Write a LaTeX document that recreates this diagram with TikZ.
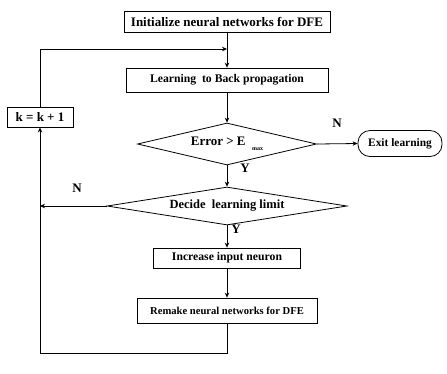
\documentclass[tikz,border=0pt]{standalone}
\usepackage{fontspec}
\setmainfont{Liberation Serif}
\usetikzlibrary{shapes.geometric,arrows.meta}
\newcommand{\fs}[1]{\fontsize{#1}{#1}\selectfont\bfseries}
\begin{document}
\begin{tikzpicture}[x=1pt,y=-1pt,
  font=\fs{13},
  line width=0.8pt,
  arr/.style={-{Stealth[length=5pt,width=4.5pt]}},
  proc/.style={draw,rectangle,inner sep=0pt,align=center},
  dec/.style={draw,diamond,inner sep=0pt,aspect=4},
  term/.style={draw,rectangle,rounded corners=12pt,inner sep=0pt},
  lbl/.style={inner sep=0pt}]
\useasboundingbox (0,0) rectangle (447,373);
\node[proc,minimum width=206pt,minimum height=21pt] (b1) at (227,22) {Initialize neural networks for DFE};
\node[proc,minimum width=202pt,minimum height=24pt,font=\fs{11.7}] (b2) at (227,80) {Learning \ to Back propagation};
\node[proc,minimum width=66pt,minimum height=20pt] (k) at (40,117) {k = k + 1};
\node[dec,minimum width=179pt,minimum height=42pt] (d1) at (227,144) {};
\node[lbl] (d1t) at (227,144) {Error > E \ \raisebox{-5pt}{\fontsize{6}{6}\selectfont max}};
\node[term,minimum width=84pt,minimum height=26pt,font=\fs{11.4}] (ex) at (400,143.5) {Exit learning};
\node[dec,minimum width=240pt,minimum height=38pt] (d2) at (227,206) {};
\node[lbl,font=\fs{12.5}] (d2t) at (227,206) {Decide \ learning limit};
\node[proc,minimum width=147pt,minimum height=20pt,font=\fs{11.7}] (b3) at (227,258) {Increase input neuron};
\node[proc,minimum width=180pt,minimum height=25pt,font=\fs{10.6}] (b4) at (227,310.5) {Remake neural networks for DFE};
\coordinate (j) at (227,49);
\coordinate (jl) at (40,49);
\coordinate (nl) at (40,206);
\coordinate (bb) at (227,353);
\coordinate (bl) at (40,353);
\node[lbl] (n1) at (337,123) {N};
\node[lbl] (y1) at (245,168) {Y};
\node[lbl] (n2) at (77,188) {N};
\node[lbl] (y2) at (236,229) {Y};
\draw[arr] (b1.south) -- (b2.north);
\draw[arr] (k.north) -- (jl) -- (j);
\draw[arr] (b2.south) -- (d1.north);
\draw[arr] (d1.east) -- (ex.west);
\draw[arr] (d1.south) -- (d2.north);
\draw[arr] (d2.west) -- (nl);
\draw[arr] (d2.south) -- (b3.north);
\draw[arr] (b3.south) -- (b4.north);
\draw[arr] (b4.south) -- (bb) -- (bl) -- (k.south);
\end{tikzpicture}
\end{document}
